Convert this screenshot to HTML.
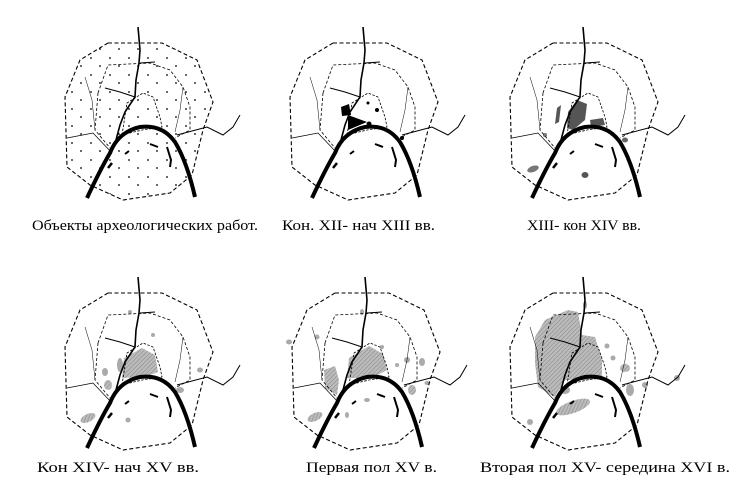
<!DOCTYPE html>
<html><head><meta charset="utf-8"><style>html,body{margin:0;padding:0;background:#fff}svg{display:block}</style></head>
<body>
<svg width="750" height="501" viewBox="0 0 750 501" xmlns="http://www.w3.org/2000/svg">
<defs>
<pattern id="hatch" width="3" height="3" patternUnits="userSpaceOnUse" patternTransform="rotate(45)">
<rect width="3" height="3" fill="#bbb"/><line x1="0" y1="0" x2="0" y2="3" stroke="#777" stroke-width="0.8"/></pattern>
<pattern id="dots" width="19" height="17" patternUnits="userSpaceOnUse">
<circle cx="3" cy="4" r="0.9" fill="#000"/><circle cx="12" cy="12" r="0.9" fill="#000"/></pattern>
<g id="base" fill="none" stroke="#000">
<path d="M58,23 L112,23 L147,40 L163,82 L153,110 L142,155 L120,173 L73,180 L40,165 L17,147 L15,77 L30,40 Z" stroke-width="1.1" stroke-dasharray="4,2.5"/>
<path d="M48,73 L58,45 L100,43 L120,50 L133,67 L140,87 L140,110 L125,118 M48,73 L45,110 L60,128" stroke-width="0.8" stroke-dasharray="3,2"/>
<path d="M72,115 L77,83 L93,73 L103,77 L110,97 L112,107 L92,110 Z" stroke-width="0.8" stroke-dasharray="2.5,1.5"/>
<path d="M37,178 Q50,150 60,133 Q68,112 90,107 Q112,104 125,122 Q137,142 145,177" stroke-width="4"/>
<path d="M88,7 L90,30 L89,43 L86,60 L85,77 L75,92 L70,105 L66,120" stroke-width="1.6"/>
<path d="M90,43 L105,42 M85,77 L70,72 L55,68" stroke-width="1"/>
<path d="M127,115 L157,107 L173,115 L183,107 L190,95" stroke-width="1"/>
<path d="M17,118 L43,113 L62,133" stroke-width="0.7"/>
<path d="M35,57 L42,80 L45,110" stroke-width="0.5"/>
<path d="M133,67 L130,90 L125,112" stroke-width="0.5"/>
<path d="M100,124 L108,127 M117,127 L121,140 L120,147 M75,134 L79,131" stroke-width="2"/>
<path d="M62,143 L58,148" stroke-width="2.5"/>
</g>
</defs>
<g font-family="'Liberation Serif', serif" font-size="15" fill="#000">
<text x="32" y="230" textLength="226" lengthAdjust="spacingAndGlyphs">Объекты археологических работ.</text>
<text x="282" y="230" textLength="153" lengthAdjust="spacingAndGlyphs">Кон. XII- нач XIII вв.</text>
<text x="527" y="230" textLength="114" lengthAdjust="spacingAndGlyphs">XIII- кон XIV вв.</text>
<text x="37" y="472" textLength="162" lengthAdjust="spacingAndGlyphs">Кон XIV- нач XV вв.</text>
<text x="306" y="472" textLength="131" lengthAdjust="spacingAndGlyphs">Первая пол XV в.</text>
<text x="480" y="472" textLength="250" lengthAdjust="spacingAndGlyphs">Вторая пол XV- середина XVI в.</text>
</g>
<g transform="translate(50,20)">
<path d="M58,23 L112,23 L147,40 L163,82 L153,110 L142,155 L120,173 L73,180 L40,165 L17,147 L15,77 L30,40 Z" fill="url(#dots)"/>
<use href="#base"/>
</g>
<g transform="translate(275,20)">
<path d="M73,95 L92,102 L73,110 Z M66,87 L74,84 L76,95 L67,96 Z" fill="#000"/>
<circle cx="94" cy="104" r="2.5" fill="#000"/><circle cx="102" cy="90" r="2" fill="#000"/><circle cx="93" cy="83" r="1.5" fill="#000"/><circle cx="127" cy="118" r="2" fill="#000"/>
<use href="#base"/>
</g>
<g transform="translate(495,20)">
<path d="M73,92 L82,80 L92,84 L90,100 L78,110 L72,108 Z" fill="#555"/>
<path d="M95,100 L108,98 L110,105 L96,107 Z M62,88 L66,85 L64,102 L60,104 Z" fill="#555"/>
<ellipse cx="38" cy="149" rx="6" ry="3" fill="#777" transform="rotate(-20 38 149)"/>
<ellipse cx="90" cy="155" rx="3.5" ry="3" fill="#555"/><ellipse cx="130" cy="120" rx="3" ry="2.5" fill="#666"/><ellipse cx="50" cy="115" rx="2" ry="2" fill="#777"/>
<use href="#base"/>
</g>
<g transform="translate(50,270)">
<path d="M74,88 L92,78 L105,85 L108,102 L95,107 L72,108 Z" fill="url(#hatch)"/>
<ellipse cx="70" cy="95" rx="3" ry="7" fill="#aaa"/><ellipse cx="58" cy="115" rx="4" ry="5" fill="url(#hatch)"/><ellipse cx="55" cy="102" rx="3" ry="4" fill="#aaa"/>
<ellipse cx="38" cy="148" rx="8" ry="4" fill="url(#hatch)" transform="rotate(-25 38 148)"/>
<ellipse cx="78" cy="150" rx="2.5" ry="2.5" fill="#aaa"/><ellipse cx="130" cy="120" rx="4" ry="3" fill="#aaa"/><ellipse cx="150" cy="100" rx="3" ry="2.5" fill="#aaa"/><ellipse cx="80" cy="42" rx="2" ry="2" fill="#aaa"/><ellipse cx="103" cy="65" rx="2" ry="2" fill="#aaa"/>
<use href="#base"/>
</g>
<g transform="translate(277,270)">
<path d="M72,88 L92,76 L106,84 L110,100 L95,108 L70,108 Z" fill="url(#hatch)"/>
<path d="M47,100 L58,96 L62,110 L60,125 L48,118 Z" fill="url(#hatch)"/>
<ellipse cx="38" cy="147" rx="8" ry="4" fill="url(#hatch)" transform="rotate(-25 38 147)"/>
<ellipse cx="12" cy="72" rx="3" ry="2.5" fill="#aaa"/><ellipse cx="40" cy="67" rx="2.5" ry="2.5" fill="#aaa"/><ellipse cx="85" cy="42" rx="2" ry="3" fill="#aaa"/><ellipse cx="105" cy="77" rx="2" ry="2" fill="#aaa"/>
<ellipse cx="130" cy="90" rx="3" ry="3" fill="#aaa"/><ellipse cx="145" cy="92" rx="3" ry="4" fill="#aaa"/><ellipse cx="135" cy="120" rx="4" ry="5" fill="url(#hatch)"/><ellipse cx="150" cy="113" rx="2.5" ry="2" fill="#aaa"/>
<ellipse cx="90" cy="130" rx="3" ry="2" fill="#aaa"/><ellipse cx="70" cy="145" rx="2" ry="3" fill="#aaa"/><ellipse cx="120" cy="95" rx="2" ry="2" fill="#aaa"/>
<use href="#base"/>
</g>
<g transform="translate(495,270)">
<path d="M40,67 L50,50 L73,40 L83,42 L87,65 L100,67 L107,90 L107,107 L92,110 L70,110 L60,127 L43,117 L40,93 Z" fill="url(#hatch)"/>
<ellipse cx="78" cy="137" rx="18" ry="6" fill="url(#hatch)" transform="rotate(-20 78 137)"/>
<ellipse cx="70" cy="120" rx="5" ry="4" fill="#aaa"/>
<ellipse cx="35" cy="152" rx="3" ry="3" fill="#aaa"/><ellipse cx="130" cy="98" rx="5" ry="4" fill="url(#hatch)"/><ellipse cx="135" cy="120" rx="4" ry="6" fill="#aaa"/><ellipse cx="150" cy="115" rx="3" ry="3" fill="#aaa"/><ellipse cx="118" cy="88" rx="2.5" ry="2.5" fill="#aaa"/><ellipse cx="112" cy="76" rx="2.5" ry="2.5" fill="#aaa"/><ellipse cx="182" cy="108" rx="3" ry="3" fill="#aaa"/><ellipse cx="90" cy="35" rx="2" ry="4" fill="#aaa"/>
<use href="#base"/>
</g>
</svg>
</body></html>
